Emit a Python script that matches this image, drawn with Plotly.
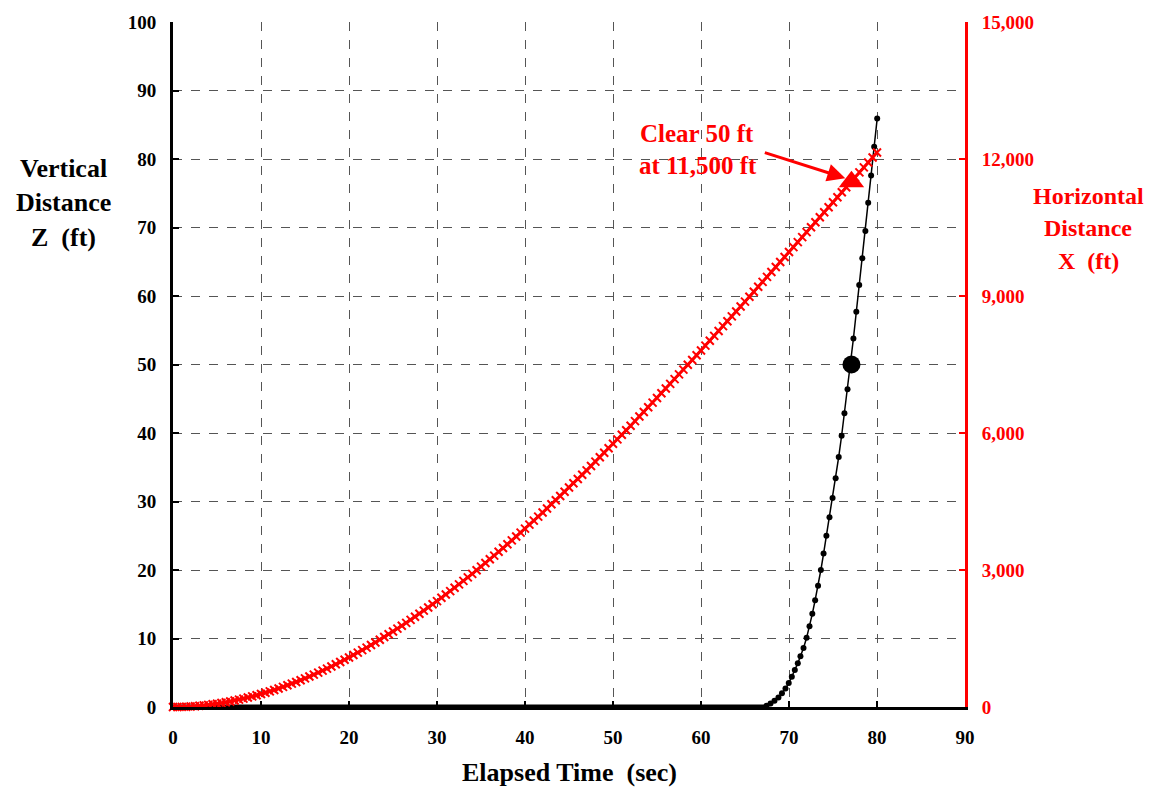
import plotly.graph_objects as go

# ---- data ----
time_x = [i * 0.5 for i in range(161)]  # 0 .. 80 s every 0.5 s (time axis of samples)
horiz_x = [0, 1, 3, 7, 12, 18, 27, 36, 47, 59, 73, 88, 105, 122, 142, 162, 184, 207, 232, 258,
           285, 313, 343, 374, 406, 440, 475, 511, 548, 586, 626, 667, 709, 752, 796, 841, 888, 936, 984, 1034,
           1085, 1137, 1190, 1245, 1300, 1356, 1414, 1472, 1531, 1592, 1653, 1716, 1779, 1843, 1908, 1975, 2042, 2110, 2179, 2249,
           2319, 2391, 2463, 2537, 2611, 2686, 2762, 2839, 2916, 2994, 3074, 3153, 3234, 3315, 3398, 3481, 3564, 3648, 3733, 3819,
           3906, 3993, 4081, 4169, 4258, 4348, 4438, 4529, 4621, 4713, 4805, 4899, 4993, 5087, 5182, 5277, 5373, 5470, 5567, 5665,
           5763, 5861, 5960, 6059, 6159, 6260, 6360, 6461, 6563, 6665, 6767, 6870, 6973, 7076, 7180, 7284, 7388, 7493, 7598, 7703,
           7808, 7914, 8020, 8127, 8233, 8340, 8447, 8554, 8661, 8769, 8877, 8985, 9093, 9201, 9309, 9418, 9526, 9635, 9744, 9853,
           9962, 10071, 10180, 10289, 10398, 10507, 10616, 10726, 10835, 10944, 11053, 11162, 11271, 11380, 11489, 11598, 11707, 11816, 11924, 12033,
           12141]

ground_t = [0, 67.3]
ground_z = [0, 0]
air_t = [67.45, 67.9, 68.35, 68.8, 69.2, 69.6, 69.97, 70.32, 70.66, 71.0, 71.3, 71.65, 72.0, 72.33, 72.65,
         72.97, 73.3, 73.62, 73.93, 74.25, 74.6, 74.95, 75.3, 75.65, 75.98, 76.3, 76.65, 76.97, 77.32, 77.65,
         77.98, 78.33, 78.68, 79.0, 79.33, 79.68, 80.02]
air_z = [0.2, 0.5, 0.9, 1.4, 2.0, 2.7, 3.5, 4.4, 5.4, 6.4, 7.4, 8.6, 10.1, 11.8, 13.6,
         15.6, 17.7, 20.0, 22.4, 25.0, 27.7, 30.5, 33.4, 36.5, 39.6, 42.9, 46.4, 50.0, 53.8, 57.7,
         61.6, 65.5, 69.5, 73.6, 77.6, 81.8, 85.9]

clear_t = [77.1]
clear_z = [50]
clear_x = [11500]

x_ticks = list(range(0, 91, 10))
z_ticks = list(range(0, 101, 10))
xr_ticks = list(range(0, 15001, 3000))

FONT = "Liberation Serif"
RED = "#FF0000"
GRID = "#555555"

fig = go.Figure()

# Horizontal distance (right axis)
fig.add_trace(go.Scatter(
    x=time_x, y=horiz_x, yaxis="y2", mode="lines+markers",
    line=dict(color=RED, width=3),
    marker=dict(symbol="x-thin", size=8, line=dict(color=RED, width=2)),
    showlegend=False, cliponaxis=False))

# Vertical distance (left axis)
fig.add_trace(go.Scatter(
    x=ground_t, y=ground_z, mode="lines",
    line=dict(color="black", width=5), showlegend=False, cliponaxis=False))
fig.add_trace(go.Scatter(
    x=air_t, y=air_z, mode="lines+markers",
    line=dict(color="black", width=1.5),
    marker=dict(symbol="circle", size=6, color="black"),
    showlegend=False, cliponaxis=False))

# clearance markers
fig.add_trace(go.Scatter(
    x=clear_t, y=clear_z, mode="markers",
    marker=dict(symbol="circle", size=18, color="black"),
    showlegend=False, cliponaxis=False))
fig.add_trace(go.Scatter(
    x=clear_t, y=clear_x, yaxis="y2", mode="markers",
    marker=dict(symbol="triangle-up", size=22, color=RED),
    showlegend=False, cliponaxis=False))

tickfont = dict(family=FONT, size=19, color="black", weight="bold")

fig.update_layout(
    width=1152, height=792,
    margin=dict(l=173, r=187, t=18, b=85),
    paper_bgcolor="white", plot_bgcolor="white",
    xaxis=dict(
        range=[0, 90], tickvals=x_ticks, ticktext=[str(v) for v in x_ticks],
        showline=True, linecolor="black", linewidth=3,
        ticks="inside", ticklen=6, tickwidth=2, tickcolor="black",
        showgrid=True, gridcolor=GRID, gridwidth=1, griddash="dash",
        zeroline=False, tickfont=tickfont, ticklabelstandoff=11,
        fixedrange=True),
    yaxis=dict(
        range=[0, 100], tickvals=z_ticks, ticktext=[str(v) for v in z_ticks],
        showline=True, linecolor="black", linewidth=3,
        ticks="inside", ticklen=6, tickwidth=2, tickcolor="black",
        showgrid=True, gridcolor=GRID, gridwidth=1, griddash="dash",
        zeroline=False, tickfont=tickfont, ticklabelstandoff=10,
        fixedrange=True),
    yaxis2=dict(
        range=[0, 15000], tickvals=xr_ticks, ticktext=[f"{v:,}" for v in xr_ticks],
        overlaying="y", side="right",
        showline=True, linecolor=RED, linewidth=3,
        ticks="inside", ticklen=6, tickwidth=2, tickcolor=RED,
        showgrid=False, zeroline=False,
        tickfont=dict(family=FONT, size=19, color=RED, weight="bold"),
        ticklabelstandoff=10, fixedrange=True),
)

PW, PH = 792.0, 689.0


def px(xp):
    return (xp - 173) / PW


def py(yp):
    return (707 - yp) / PH


left_font = dict(family=FONT, size=26, color="black", weight="bold")
right_font = dict(family=FONT, size=24, color=RED, weight="bold")
note_font = dict(family=FONT, size=25, color=RED, weight="bold")

annos = []
for txt, yy in [("Vertical", 165), ("Distance", 200), ("Z  (ft)", 235)]:
    annos.append(dict(text=txt, x=px(63), y=py(yy), xref="paper", yref="paper",
                      showarrow=False, font=left_font, xanchor="center", yanchor="middle"))
for txt, yy in [("Horizontal", 193), ("Distance", 225), ("X  (ft)", 258)]:
    annos.append(dict(text=txt, x=px(1088), y=py(yy), xref="paper", yref="paper",
                      showarrow=False, font=right_font, xanchor="center", yanchor="middle"))
annos.append(dict(text="Elapsed Time  (sec)", x=px(569), y=py(773), xref="paper", yref="paper",
                  showarrow=False, font=left_font, xanchor="center", yanchor="middle"))
annos.append(dict(text="Clear 50 ft", x=px(697), y=py(130), xref="paper", yref="paper",
                  showarrow=False, font=note_font, xanchor="center", yanchor="middle"))
annos.append(dict(text="at 11,500 ft", x=px(698), y=py(162), xref="paper", yref="paper",
                  showarrow=False, font=note_font, xanchor="center", yanchor="middle"))
# arrow to the clearance point
annos.append(dict(text="", x=76.4, y=11580, xref="x", yref="y2",
                  ax=-82, ay=-26, axref="pixel", ayref="pixel",
                  showarrow=True, arrowhead=2, arrowsize=1.2, arrowwidth=3, arrowcolor=RED))

fig.update_layout(annotations=annos)

fig.write_html("out.html")
